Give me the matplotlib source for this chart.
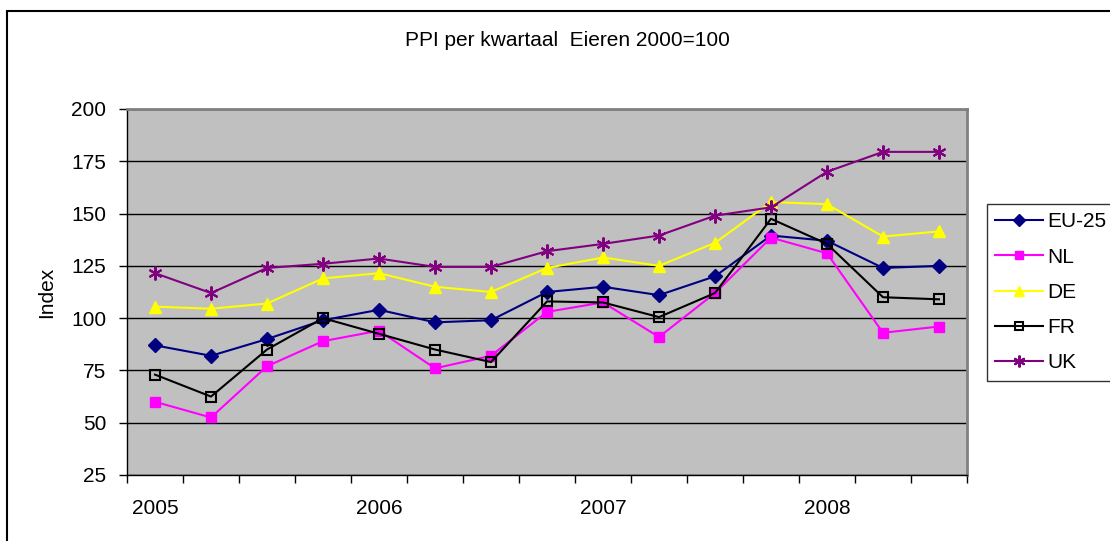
import matplotlib
matplotlib.use('Agg')
import matplotlib.pyplot as plt
from matplotlib.patches import Rectangle

plt.rcParams['font.family'] = ['Liberation Sans', 'DejaVu Sans']

# kwartalen 2005 Q1 t/m 2008 Q3
quarters = ['2005', '', '', '', '2006', '', '', '', '2007', '', '', '', '2008', '', '']
eu25 = [87, 82, 90, 99, 104, 98, 99, 112.5, 115, 111, 120, 139.5, 137, 124, 125]
nl = [60, 52.5, 77, 89, 94, 76, 82, 103, 107.5, 91, 112, 138.5, 131, 93, 96]
de = [105.5, 104.5, 107, 119, 121.5, 115, 112.5, 124, 129, 125, 136, 155.5, 154.5, 139, 141.5]
fr = [73, 62.5, 85, 100, 92.5, 85, 79, 108, 107.5, 100.5, 112, 147.5, 135.5, 110, 109]
uk = [121.5, 112, 124, 126, 128.5, 124.5, 124.5, 132, 135.5, 139.5, 149, 153, 170, 179.5, 179.5]

fs = 15

fig = plt.figure(figsize=(11.1, 5.41), dpi=100)
ax = fig.add_axes([127/1110, 1-475/541, 840/1110, 366/541])
ax.set_facecolor('#c0c0c0')

x = list(range(len(quarters)))
ax.plot(x, eu25, color='#000080', marker='D', markersize=7, lw=1.5, label='EU-25')
ax.plot(x, nl, color='#ff00ff', marker='s', markersize=7, lw=1.5, label='NL')
ax.plot(x, de, color='#ffff00', marker='^', markersize=8, lw=1.5, label='DE')
ax.plot(x, fr, color='black', marker='s', markersize=7, mfc='none', mew=1.5, lw=1.5, label='FR')
ax.plot(x, uk, color='#800080', marker=(6, 2, 0), markersize=10, mew=1.5, lw=1.5, label='UK')

ax.set_xlim(-0.5, len(quarters) - 0.5)
ax.set_ylim(25, 200)
ax.set_yticks(range(25, 201, 25))
ax.grid(axis='y', color='black', lw=1)
ax.set_axisbelow(True)

ax.set_xticks(x)
ax.set_xticklabels(quarters, fontsize=fs)
ax.set_xticks([i - 0.5 for i in range(len(quarters) + 1)], minor=True)
ax.tick_params(axis='x', which='major', length=0, pad=17)
ax.tick_params(axis='x', which='minor', length=6, width=1)
ax.tick_params(axis='y', length=6, width=1, labelsize=fs, pad=9)

for s in ['top', 'right']:
    ax.spines[s].set_color('#808080')
    ax.spines[s].set_linewidth(2)
for s in ['left', 'bottom']:
    ax.spines[s].set_color('black')
    ax.spines[s].set_linewidth(1)

ax.set_ylabel('Index', fontsize=fs, labelpad=11)
fig.text(567/1110, 1-40/541, 'PPI per kwartaal  Eieren 2000=100', fontsize=fs,
         ha='center', va='center')

leg = fig.legend(loc='upper left', bbox_to_anchor=(987/1110, 1-204/541), fontsize=fs,
                 frameon=True, fancybox=False, edgecolor='black', handlelength=2.3,
                 labelspacing=0.78, borderpad=0.4, handletextpad=0.2, borderaxespad=0,
                 markerscale=0.85)
leg.get_frame().set_linewidth(1)

# rand om de hele grafiek
fig.add_artist(Rectangle((7/1110, -0.05), 1.1, 1 - 11/541 + 0.05, transform=fig.transFigure,
                         fill=False, edgecolor='black', lw=1.5, clip_on=False))

fig.savefig('out.png', dpi=100)
